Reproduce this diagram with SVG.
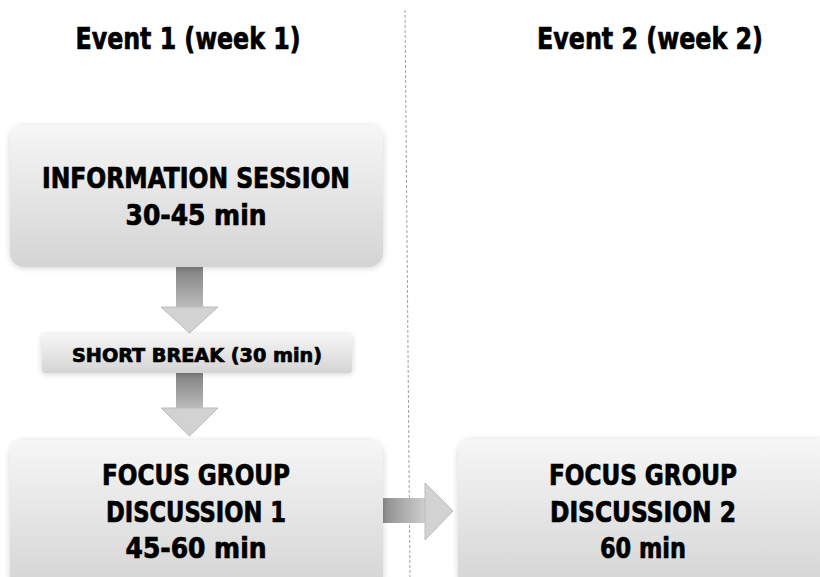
<svg xmlns="http://www.w3.org/2000/svg" width="820" height="577" viewBox="0 0 820 577">
<style>
  .t { font-family: "DejaVu Sans Condensed", "DejaVu Sans", sans-serif; font-weight: bold; fill: #000; stroke: #000; stroke-width: 0.7; text-anchor: middle; }
  .box { fill: url(#boxGrad); filter: url(#shadow); }
  .head { fill: #d2d2d2; stroke: #bdbdbd; stroke-width: 1; }
</style>
<defs>
  <linearGradient id="boxGrad" x1="0" y1="0" x2="0" y2="1">
    <stop offset="0" stop-color="#f6f6f6"/>
    <stop offset="1" stop-color="#d4d4d4"/>
  </linearGradient>
  <linearGradient id="vShaft" x1="0" y1="0" x2="0" y2="1">
    <stop offset="0" stop-color="#808080"/>
    <stop offset="1" stop-color="#bdbdbd"/>
  </linearGradient>
  <linearGradient id="hShaft" x1="0" y1="0" x2="1" y2="0">
    <stop offset="0" stop-color="#858585"/>
    <stop offset="1" stop-color="#cfcfcf"/>
  </linearGradient>
  <filter id="shadow" x="-5%" y="-10%" width="110%" height="125%">
    <feGaussianBlur in="SourceAlpha" stdDeviation="3"/>
    <feOffset dx="0" dy="1" result="b"/>
    <feComponentTransfer><feFuncA type="linear" slope="0.18"/></feComponentTransfer>
    <feMerge><feMergeNode/><feMergeNode in="SourceGraphic"/></feMerge>
  </filter>
</defs>
<rect width="820" height="577" fill="#ffffff"/>

<g id="divider">
  <line x1="405" y1="10" x2="410" y2="577" stroke="#a0a0a0" stroke-width="1" stroke-dasharray="3,2"/>
</g>

<g id="header1"><text class="t" x="188" y="49" font-size="31" textLength="225" lengthAdjust="spacingAndGlyphs">Event 1 (week 1)</text></g>
<g id="header2"><text class="t" x="650" y="49" font-size="31" textLength="226" lengthAdjust="spacingAndGlyphs">Event 2 (week 2)</text></g>

<g id="connectors">
  <g id="arrow1">
    <rect x="176" y="267" width="27" height="41" fill="url(#vShaft)"/>
    <polygon class="head" points="161,307 218,307 189.5,333"/>
  </g>
  <g id="arrow2">
    <rect x="176" y="373" width="27" height="36" fill="url(#vShaft)"/>
    <polygon class="head" points="161,408 218,408 189.5,436"/>
  </g>
  <g id="arrow3">
    <rect x="378" y="498" width="48" height="25" fill="url(#hShaft)"/>
    <polygon class="head" points="425,483 453,511 425,540"/>
  </g>
</g>

<g id="info-session">
  <rect class="box" x="10" y="125" width="373" height="142" rx="14"/>
  <text class="t" x="196" y="188" font-size="28" textLength="308" lengthAdjust="spacingAndGlyphs">INFORMATION SESSION</text>
  <text class="t" x="196" y="225" font-size="28" textLength="141" lengthAdjust="spacingAndGlyphs">30-45 min</text>
</g>

<g id="short-break">
  <rect class="box" x="42" y="334" width="310" height="39" rx="3"/>
  <text class="t" x="197" y="362" font-size="19" textLength="250" lengthAdjust="spacingAndGlyphs">SHORT BREAK (30 min)</text>
</g>

<g id="focus-group-1">
  <rect class="box" x="10" y="440" width="373" height="150" rx="14"/>
  <text class="t" x="196" y="485" font-size="28" textLength="188" lengthAdjust="spacingAndGlyphs">FOCUS GROUP</text>
  <text class="t" x="196" y="522" font-size="28" textLength="180" lengthAdjust="spacingAndGlyphs">DISCUSSION 1</text>
  <text class="t" x="196" y="558" font-size="28" textLength="141" lengthAdjust="spacingAndGlyphs">45-60 min</text>
</g>

<g id="focus-group-2">
  <rect class="box" x="458" y="439" width="375" height="150" rx="14"/>
  <text class="t" x="643" y="485" font-size="28" textLength="188" lengthAdjust="spacingAndGlyphs">FOCUS GROUP</text>
  <text class="t" x="643" y="522" font-size="28" textLength="186" lengthAdjust="spacingAndGlyphs">DISCUSSION 2</text>
  <text class="t" x="643" y="558" font-size="28" textLength="86" lengthAdjust="spacingAndGlyphs">60 min</text>
</g>
</svg>
